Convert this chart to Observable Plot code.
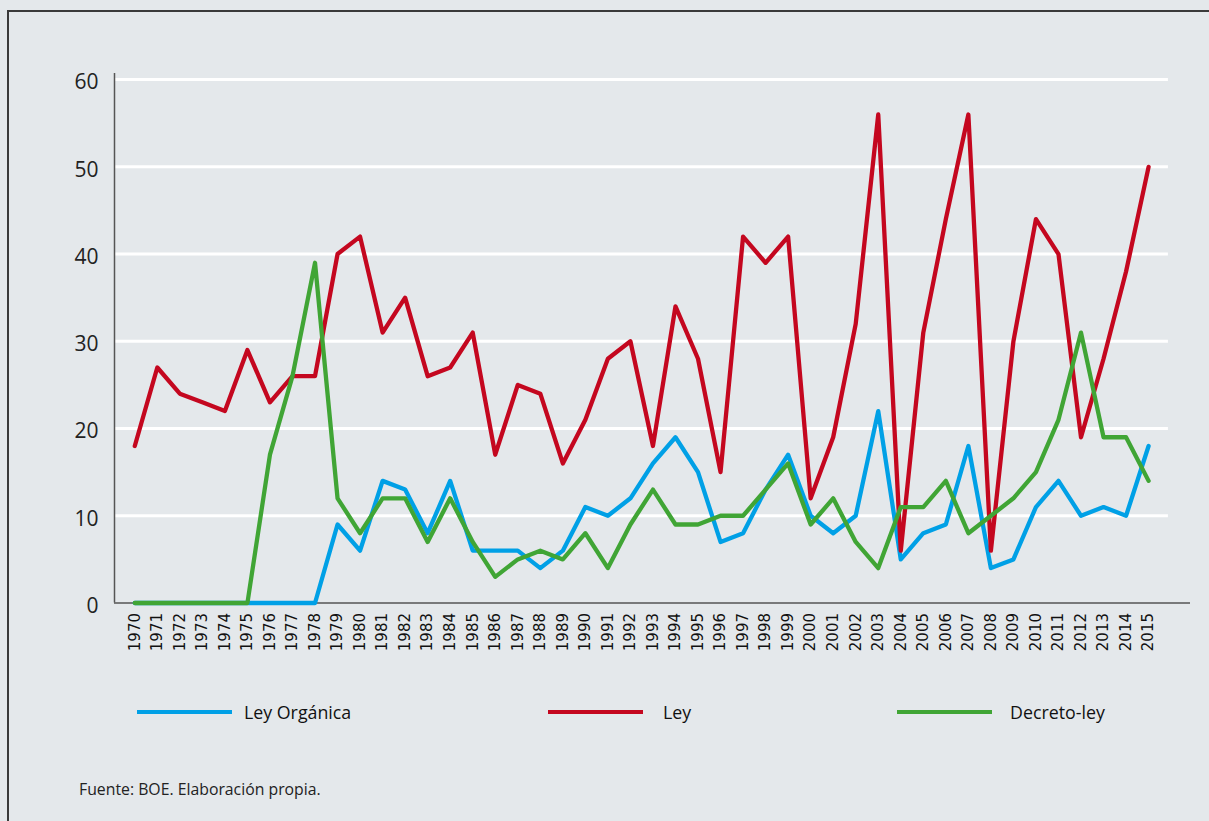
<!DOCTYPE html>
<html>
<head>
<meta charset="utf-8">
<script src="https://cdn.jsdelivr.net/npm/d3@7"></script>
<script src="https://cdn.jsdelivr.net/npm/@observablehq/plot@0.6"></script>
<style>
  html, body { margin: 0; padding: 0; background: #e4e8eb; overflow: hidden; }
  #wrap { position: relative; width: 1209px; height: 821px; background: #e4e8eb; overflow: hidden; }
  #frame { position: absolute; left: 7px; top: 10px; width: 1400px; height: 1000px; border: 2px solid #3a3a3a; box-sizing: border-box; }
  #chart { position: absolute; left: 0; top: 0; }
  .leg { position: absolute; top: 700px; height: 24px; font-family: "Open Sans", sans-serif; font-size: 17.8px; color: #111; }
  .sw { position: absolute; top: 10px; width: 95px; height: 4px; }
  .lt { position: absolute; top: 0; white-space: nowrap; line-height: 24px; }
  #caption { position: absolute; left: 79px; top: 778px; font-family: "Open Sans", sans-serif; font-size: 15.8px; color: #222; }
</style>
</head>
<body>
<div id="wrap">
  <div id="frame"></div>
  <div id="chart"></div>
  <div class="leg" style="left:137px"><div class="sw" style="left:0;background:#00a0e6"></div><div class="lt" style="left:107px">Ley Orgánica</div></div>
  <div class="leg" style="left:548px"><div class="sw" style="left:0;background:#c4071f"></div><div class="lt" style="left:115px">Ley</div></div>
  <div class="leg" style="left:897px"><div class="sw" style="left:0;background:#40a535"></div><div class="lt" style="left:113px">Decreto-ley</div></div>
  <div id="caption">Fuente: BOE. Elaboración propia.</div>
</div>
<script>
const years = d3.range(1970, 2016);
const yTicks = [0, 10, 20, 30, 40, 50, 60];

const leyOrganica = [0,0,0,0,0,0,0,0,0,9, 6,14,13,8,14,6,6,6,4,6, 11,10,12,16,19,15,7,8,13,17, 10,8,10,22,5,8,9,18,4,5, 11,14,10,11,10,18];
const ley = [18,27,24,23,22,29,23,26,26,40, 42,31,35,26,27,31,17,25,24,16, 21,28,30,18,34,28,15,42,39,42, 12,19,32,56,6,31,44,56,6,30, 44,40,19,28,38,50];
const decretoLey = [0,0,0,0,0,0,17,26,39,12, 8,12,12,7,12,7,3,5,6,5, 8,4,9,13,9,9,10,10,13,16, 9,12,7,4,11,11,14,8,10,12, 15,21,31,19,19,14];

const seriesNames = ["Ley Orgánica", "Ley", "Decreto-ley"];
const seriesColors = ["#00a0e6", "#c4071f", "#40a535"];

const rows = (vals) => years.map((year, i) => ({ year, value: vals[i] }));

const xMin = 1969.1, xMax = 2016.86, gridEnd = 2015.88, yMax = 60.7;

const chart = Plot.plot({
  width: 1209,
  height: 660,
  marginLeft: 114,
  marginRight: 19,
  marginTop: 73,
  marginBottom: 57.5,
  x: { domain: [xMin, xMax] },
  y: { domain: [0, yMax] },
  style: { background: "transparent", fontFamily: "DejaVu Sans", color: "#111" },
  marks: [
    Plot.ruleY(yTicks.filter(d => d > 0), { x1: xMin, x2: gridEnd, stroke: "#ffffff", strokeWidth: 3 }),
    Plot.ruleX([xMin], { y1: 0, y2: yMax, stroke: "#555", strokeWidth: 1.5 }),
    Plot.ruleY([0], { x1: xMin, x2: xMax, stroke: "#555", strokeWidth: 1.5 }),
    Plot.axisY(yTicks, { tickSize: 0, tickPadding: 16, fontSize: 21, fontFamily: "Open Sans", fill: "#222", label: null, dy: 3 }),
    Plot.axisX(years, { tickRotate: -90, tickSize: 0, tickPadding: 10, fontSize: 15, fill: "#111", tickFormat: d => String(d), label: null }),
    Plot.line(rows(leyOrganica), { x: "year", y: "value", stroke: seriesColors[0], strokeWidth: 4.3 }),
    Plot.line(rows(ley), { x: "year", y: "value", stroke: seriesColors[1], strokeWidth: 4.3 }),
    Plot.line(rows(decretoLey), { x: "year", y: "value", stroke: seriesColors[2], strokeWidth: 4.3 })
  ]
});
document.getElementById("chart").appendChild(chart);
</script>
</body>
</html>
